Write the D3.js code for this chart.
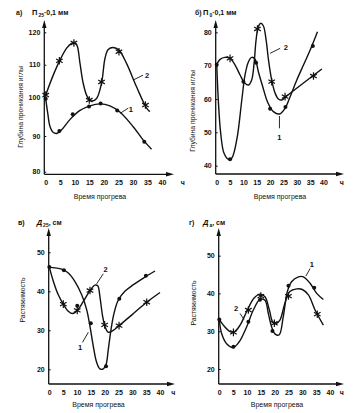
<!DOCTYPE html>
<html><head><meta charset="utf-8">
<script src="https://cdn.jsdelivr.net/npm/d3@7"></script>
<style>
body{margin:0;background:#fff}
svg{display:block}
text{font-family:"Liberation Sans",Arial,sans-serif;fill:#111}
</style>
</head><body><svg id="c" width="359" height="413"></svg>
<script>
// ---------- DATA ----------
const xTickValues = [0, 5, 10, 15, 20, 25, 30, 35, 40];
const yTicksA = [80, 90, 100, 110, 120];
const yTicksB = [40, 50, 60, 70, 80];
const yTicksV = [20, 30, 40, 50];
const yTicksG = [20, 30, 40, 50];

// panel а) — П25·0,1 мм
const aDots  = [[0,99.6],[4.7,91.3],[9.3,95.6],[14.9,97.6],[18.9,98.4],[24.6,96.6],[33.9,88.4]];
const aCurve1 = [[0,99.6],[0.7,95.9],[1.5,92.4],[2.6,90.9],[4.0,90.7],[5.5,91.6],[8.4,94.3],[11.8,96.6],[15.2,97.8],[18.7,98.3],[22.1,97.8],[25.5,96.2],[30.1,92.4],[33.5,88.9],[36.4,86.3]];
const aStars = [[0,100.7],[4.7,111.2],[9.7,116.7],[15,99.3],[19.2,104.7],[25.2,114],[34.3,98]];
const aCurve2 = [[0,100.7],[2.6,106.8],[4.9,111.4],[7.2,115.1],[8.9,116.6],[10.1,116.8],[10.9,115.6],[11.8,110.4],[12.9,104.3],[14.3,100.2],[15.8,99.05],[17.5,99.7],[19.2,104.3],[20.4,112],[21.5,114.7],[23.2,115.3],[25.2,114.5],[27.8,110.4],[31.2,103.3],[34.7,97.2],[35.8,96.3]];

// panel б) — П0·0,1 мм
const bDots  = [[0,70.3],[5,41.9],[10,65.2],[14.75,70.9],[20,57.1],[25.75,57.6],[36,75.9]];
const bCurve1 = [[0,70.7],[0.6,59.7],[1.5,49.7],[2.75,43.7],[4.4,41.9],[5.6,42.2],[7.5,47.7],[9.4,59.7],[10.6,67.2],[11.9,71.2],[13.1,72.5],[14.4,71.9],[15.6,68.2],[17.25,63.7],[19,59.2],[21.25,56.2],[23.5,55.5],[25.6,57.2],[27.5,60.7],[30,65.7],[32.5,70.2],[35,74.7],[37.75,80.2]];
const bStars = [[5,72.2],[15.25,81],[20.6,65.2],[25.6,60.7],[36.25,66.9]];
const bCurve2 = [[0,70.4],[1.25,71.9],[3.1,72.5],[5,72.2],[6.9,70.2],[8.75,67.2],[10.6,64.7],[11.9,64.2],[13.1,65.7],[14,70.7],[14.75,77.7],[15.6,81.7],[16.5,82.7],[17.5,81.9],[18.5,77.7],[19.4,71.7],[20.6,65.7],[21.9,61.7],[23.1,60],[24.4,59.7],[25.6,60.5],[32.5,64.8],[39.4,69]];

// panel в) — Д25, см
const vDots  = [[0,46.2],[5.3,45.4],[10.1,36.3],[15,31.8],[20.5,20.8],[25.3,38.1],[34.9,44]];
const vCurve1 = [[0,46.2],[2.05,46],[4.46,45.7],[6.87,44.7],[9.28,42.5],[11.7,39.1],[13.5,35.3],[14.7,31],[15.9,25.9],[17.1,21.8],[18.3,20.1],[19.5,20.1],[20.5,21.2],[21.3,25],[22.3,30.2],[23.4,34.4],[24.9,37.7],[27.3,40],[30.4,41.7],[34,43.4],[38.2,45.2]];
const vStars = [[5.06,36.7],[10.1,35.1],[14.7,40.2],[20,31.4],[25.2,31.2],[35.2,37.2]];
const vCurve2 = [[0,46.2],[1.45,42.6],[3.25,39.1],[5.06,36.7],[6.87,34.9],[8.43,34.3],[10.1,35.1],[12.3,37.4],[14.7,40.2],[16.5,41.6],[17.5,41.4],[18.3,38.6],[19.2,33.9],[20.1,31],[21.3,29.5],[23.1,30],[25.2,31.2],[30.4,34.3],[35.2,37.2],[40,39.7]];

// panel г) — Дa, см
const gDots  = [[0,33.1],[5.1,25.9],[10.5,32.5],[14.7,38.3],[19.2,30.05],[25,42],[34.3,41.5]];
const gCurve1 = [[0,33.1],[0.84,29.4],[2.65,26.7],[5.06,25.7],[7.2,27.2],[9.9,31.2],[12.3,35.6],[14.7,38.4],[16.5,38.2],[17.7,34.7],[18.9,31.2],[20.1,29.3],[21.6,29],[23.1,33.8],[24.6,40.5],[26.1,43.1],[28.6,44.4],[30.4,44.4],[32.8,42.7],[35.2,40],[37.6,38.4]];
const gStars = [[5.1,29.7],[10.5,35.6],[15,39.3],[19.9,32.1],[25,39.3],[35.4,34.5]];
const gCurve2 = [[0,33.1],[1.45,31.6],[3.86,29.9],[5.4,29.8],[7.5,31.6],[9.9,35.2],[12.5,38.7],[14.7,39.8],[16.5,39.1],[18.1,35.6],[19.3,32.5],[20.7,32.1],[21.9,32.9],[23.7,37.4],[25.5,40.5],[28,41.2],[29.8,41.1],[32.2,39.6],[34.6,35.6],[37.6,31.6]];

const xAxisTitle = "Время прогрева";
const unitLabel = "ч";

// ---------- LAYOUT ----------
const panels = [
  {letter:"а)", sym:"П", sub:"25", unit:"·0,1 мм", ylabel:"Глубина проникания иглы",
   yTicks:yTicksA, yRange:[171.7,136,97.3,64.7,32.3], xRange:[45.7,162],
   axX:44.3, axY:174.3, axTop:20, axRight:174, letterX:16, titleX:32, titleY:15,
   ylabX:21, ylabY:107, xlabX:100, xlabY:199, unitX:182.7,
   dots:aDots, c1:aCurve1, stars:aStars, c2:aCurve2,
   notes:[{t:"2",lx:34.9,ly:106.6,a:[30.1,105.3],b:[33.5,106.8]},{t:"1",lx:29.3,ly:97,a:[25.7,95.9],b:[28.4,97.2]}]},
  {letter:"б)", sym:"П", sub:"0", unit:"·0,1 мм", ylabel:"Глубина проникания иглы",
   yTicks:yTicksB, yRange:[165.7,132.3,99,65.7,32.3], xRange:[216.7,323.5],
   axX:215.7, axY:174, axTop:20, axRight:344, letterX:195, titleX:203, titleY:15,
   ylabX:192.5, ylabY:111, xlabX:280, xlabY:199, unitX:341.7,
   dots:bDots, c1:bCurve1, stars:bStars, c2:bCurve2,
   notes:[{t:"2",lx:25.9,ly:75.6,a:[20,73.7],b:[23.75,75.2]},{t:"1",lx:23.5,ly:48.6,a:[23.5,54.9],b:[23.5,51.2]}]},
  {letter:"в)", sym:"Д", sub:"25", unit:", см", ylabel:"Растяжимость",
   yTicks:yTicksV, yRange:[369.3,330.3,291.3,252.3], xRange:[49.3,160],
   axX:48.7, axY:384, axTop:228, axRight:175, letterX:18, titleX:36.7, titleY:225,
   ylabX:23, ylabY:300, xlabX:98.5, xlabY:407, unitX:173.3,
   dots:vDots, c1:vCurve1, stars:vStars, c2:vCurve2,
   notes:[{t:"2",lx:20.3,ly:45.5,a:[17.1,41.9],b:[19.5,44.5]},{t:"1",lx:11.1,ly:25.6,a:[12,26.9],b:[14.1,29.5]}]},
  {letter:"г)", sym:"Д", sub:"a", unit:", см", ylabel:"Растяжимость",
   yTicks:yTicksG, yRange:[369,331.2,293.4,255.7], xRange:[219.3,330],
   axX:218.7, axY:384, axTop:228, axRight:344, letterX:189, titleX:203, titleY:225,
   ylabX:193.5, ylabY:303, xlabX:277, xlabY:407, unitX:341.7,
   dots:gDots, c1:gCurve1, stars:gStars, c2:gCurve2,
   notes:[{t:"1",lx:33.4,ly:47.6,a:[31.3,44.6],b:[32.8,46.6]},{t:"2",lx:6.1,ly:36,a:[7.5,34.7],b:[8.9,33.1]}]}
];

const svg = d3.select("#c");
const INK = "#111";

function starPath(r){
  let p = "";
  [90, 30, 150].forEach(a=>{
    const rad = a*Math.PI/180, dx = r*Math.cos(rad), dy = r*Math.sin(rad);
    p += `M${-dx},${-dy}L${dx},${dy}`;
  });
  return p;
}

panels.forEach(P=>{
  const g = svg.append("g");
  const x = d3.scaleLinear().domain([0,40]).range(P.xRange);
  const y = d3.scaleLinear().domain(P.yTicks).range(P.yRange);

  // axes lines with arrows
  g.append("line").attr("x1",P.axX).attr("x2",P.axX).attr("y1",P.axY).attr("y2",P.axTop+4)
    .attr("stroke",INK).attr("stroke-width",1.3);
  g.append("line").attr("x1",P.axX).attr("x2",P.axRight-4).attr("y1",P.axY).attr("y2",P.axY)
    .attr("stroke",INK).attr("stroke-width",1.3);
  g.append("path").attr("d",`M${P.axX},${P.axTop}L${P.axX-2.2},${P.axTop+8}L${P.axX+2.2},${P.axTop+8}Z`).attr("fill",INK);
  g.append("path").attr("d",`M${P.axRight},${P.axY}L${P.axRight-8},${P.axY-2.2}L${P.axRight-8},${P.axY+2.2}Z`).attr("fill",INK);

  // y axis ticks
  const ya = g.append("g").attr("transform",`translate(${P.axX},0)`)
    .call(d3.axisLeft(y).tickValues(P.yTicks).tickSizeInner(-2).tickSizeOuter(0).tickPadding(4));
  ya.select(".domain").remove();
  ya.selectAll("line").attr("stroke",INK);
  ya.selectAll("text").attr("font-size",7).attr("font-weight","bold").attr("fill",INK).style("font-family","Liberation Sans, Arial, sans-serif");

  // x axis ticks
  const xa = g.append("g").attr("transform",`translate(0,${P.axY})`)
    .call(d3.axisBottom(x).tickValues(xTickValues).tickSize(0).tickPadding(6));
  xa.select(".domain").remove();
  xa.selectAll("text").attr("font-size",7).attr("font-weight","bold").attr("fill",INK).style("font-family","Liberation Sans, Arial, sans-serif");

  g.append("text").attr("x",P.unitX).attr("y",P.axY+11).attr("text-anchor","middle")
    .attr("font-size",7).attr("font-weight","bold").text(unitLabel);

  // titles
  g.append("text").attr("x",P.letterX).attr("y",P.titleY).attr("font-size",7).attr("font-weight","bold").text(P.letter);
  const t = g.append("text").attr("x",P.titleX).attr("y",P.titleY).attr("font-size",7.5).attr("font-weight","bold");
  t.append("tspan").attr("font-style", P.sym==="Д"?"italic":"normal").text(P.sym);
  t.append("tspan").attr("font-size",5).attr("dx",1).attr("dy",2).text(P.sub);
  t.append("tspan").attr("dy",-2).attr("font-size",7).text(P.unit);

  g.append("text").attr("transform",`translate(${P.ylabX},${P.ylabY}) rotate(-90)`)
    .attr("text-anchor","middle").attr("font-size",6.8).attr("dy","0.35em").text(P.ylabel);
  g.append("text").attr("x",P.xlabX).attr("y",P.xlabY).attr("text-anchor","middle")
    .attr("font-size",7).text(xAxisTitle);

  // curves
  const line = d3.line().x(d=>x(d[0])).y(d=>y(d[1])).curve(d3.curveCatmullRom.alpha(0.5));
  [P.c1, P.c2].forEach(c=>{
    g.append("path").attr("d",line(c)).attr("fill","none").attr("stroke",INK).attr("stroke-width",1.4);
  });

  // markers
  g.selectAll(null).data(P.dots).join("circle")
    .attr("cx",d=>x(d[0])).attr("cy",d=>y(d[1])).attr("r",2).attr("fill",INK);
  g.selectAll(null).data(P.stars).join("path")
    .attr("transform",d=>`translate(${x(d[0])},${y(d[1])})`)
    .attr("d",starPath(3.8)).attr("stroke",INK).attr("stroke-width",1.2).attr("fill","none");

  // curve number labels with leaders
  P.notes.forEach(n=>{
    g.append("line").attr("x1",x(n.a[0])).attr("y1",y(n.a[1])).attr("x2",x(n.b[0])).attr("y2",y(n.b[1]))
      .attr("stroke",INK).attr("stroke-width",0.9);
    g.append("text").attr("x",x(n.lx)).attr("y",y(n.ly)).attr("dy","0.35em").attr("text-anchor","middle")
      .attr("font-size",7.5).attr("font-weight","bold").text(n.t);
  });
});
</script></body></html>
